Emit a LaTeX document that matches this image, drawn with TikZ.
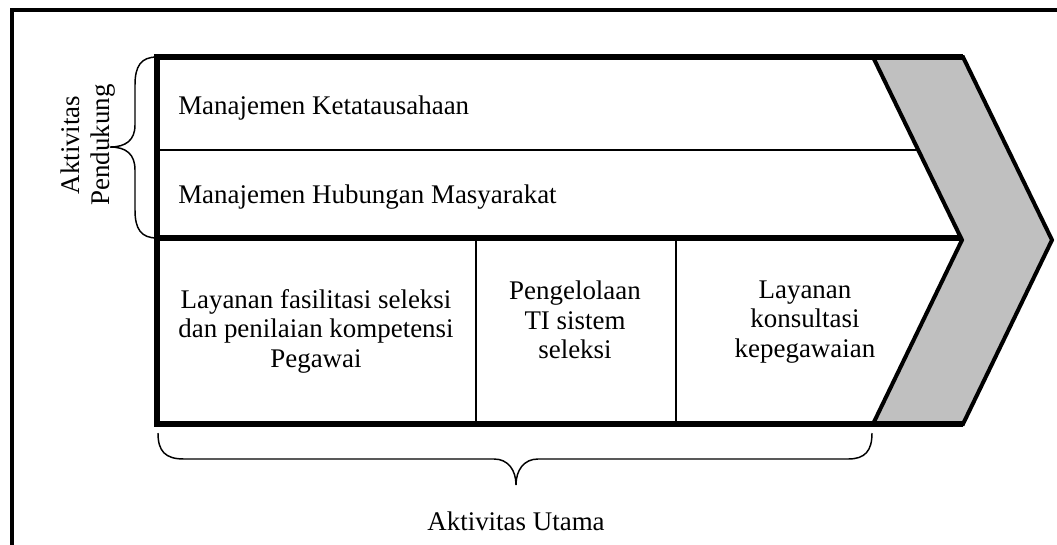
\documentclass[tikz,border=0pt]{standalone}
\usepackage{fontspec}
\setmainfont{Liberation Serif}
\begin{document}
\begin{tikzpicture}[x=0.75pt,y=-0.75pt,
  thickline/.style={line width=4.2pt,line join=miter},
  thinline/.style={line width=0.9pt},
  frameline/.style={line width=3pt},
  bracestyle/.style={line width=1.1pt},
  lbl/.style={inner sep=0pt,font=\fontsize{20.2}{22.1}\selectfont},
  chev/.style={fill={rgb,255:red,192;green,192;blue,192},draw=black,line width=3pt,line join=miter}]
\useasboundingbox (0,0) rectangle (1057,544);
\clip (0,0) rectangle (1057,544);
% outer frame
\draw[frameline] (12,10) rectangle (1090,580);
% chevron
\draw[chev] (873,57) -- (963,57) -- (1052,240) -- (963,424) -- (873,424) -- (962,240) -- cycle;
% coordinates
\coordinate (tl) at (157,57);
\coordinate (tr) at (963,57);
\coordinate (ml) at (157,238);
\coordinate (mr) at (962,238);
\coordinate (bl) at (157,424);
\coordinate (br) at (963,424);
\coordinate (sl) at (157,150);
\coordinate (sr) at (918,150);
\coordinate (v1t) at (476,238);
\coordinate (v1b) at (476,424);
\coordinate (v2t) at (676,238);
\coordinate (v2b) at (676,424);
% thin separators
\draw[thinline] (sl) -- (sr);
\draw[thinline] (v1t) -- (v1b);
\draw[thinline] (v2t) -- (v2b);
% thick box lines
\draw[thickline] (tr) -- (tl) -- (bl) -- (br);
\draw[thickline] (ml) -- (mr);
% support brace
\draw[bracestyle] (157,57) .. controls (141,57) and (135,66) .. (135,85) -- (135,125) .. controls (135,140) and (126,147) .. (110,147) .. controls (126,147) and (135,154) .. (135,170) -- (135,210) .. controls (135,229) and (141,238) .. (157,238);
% primary brace
\draw[bracestyle] (158,433) .. controls (158,451) and (165,459) .. (184,459) -- (494,459) .. controls (508,459) and (516,470) .. (516,485) .. controls (516,470) and (524,459) .. (538,459) -- (848,459) .. controls (865,459) and (872,451) .. (872,433);
% texts
\node[lbl,anchor=base west] (ketata) at (178,114) {Manajemen Ketatausahaan};
\node[lbl,anchor=base west] (humas) at (178,203) {Manajemen Hubungan Masyarakat};
\node[lbl,align=center] (seleksi) at (316,331) {Layanan fasilitasi seleksi\\dan penilaian kompetensi\\Pegawai};
\node[lbl,align=center] (ti) at (575,320) {Pengelolaan\\TI sistem\\seleksi};
\node[lbl,align=center] (konsul) at (805,322) {Layanan\\konsultasi\\kepegawaian};
\node[lbl,align=center,rotate=90] (pendukung) at (88,145) {Aktivitas\\Pendukung};
\node[lbl,anchor=base] (utama) at (516,530) {Aktivitas Utama};
\end{tikzpicture}
\end{document}
